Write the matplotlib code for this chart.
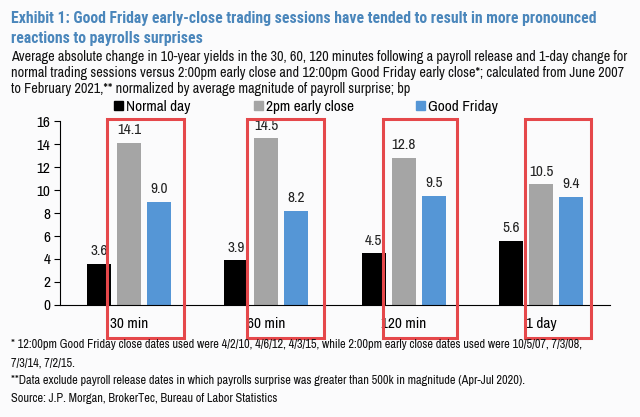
import matplotlib
matplotlib.use("Agg")
import matplotlib.pyplot as plt
import numpy as np
from matplotlib import font_manager
from matplotlib.patches import Rectangle, Patch

narrow = ['Arial Narrow', 'Liberation Sans Narrow', 'Archivo Narrow', 'Roboto Condensed',
          'PT Sans Narrow', 'Pragati Narrow', 'Open Sans Condensed', 'Fira Sans Condensed',
          'IBM Plex Sans Condensed', 'Encode Sans Condensed']
fonts = font_manager.fontManager.ttflist
names = {f.name for f in fonts}
bold_names = {f.name for f in fonts if f.weight in (700, 'bold') and '[' not in f.fname}

fam = next((c for c in narrow if c in names), 'Liberation Sans')
title_fam = next((c for c in narrow if c in bold_names), 'Liberation Sans')
plt.rcParams['font.family'] = [fam, 'DejaVu Sans']

categories = ['30 min', '60 min', '120 min', '1 day']
normal_day = [3.6, 3.9, 4.5, 5.6]
early_close = [14.1, 14.5, 12.8, 10.5]
good_friday = [9.0, 8.2, 9.5, 9.4]
series_names = ['Normal day', '2pm early close', 'Good Friday']
colors = ['#000000', '#a5a5a5', '#5596d6']
yticks = [0, 2, 4, 6, 8, 10, 12, 14, 16]

fig = plt.figure(figsize=(6.4, 4.17), dpi=100)
fig.patch.set_facecolor('#fbfbfc')
ax = fig.add_axes([0.094, 0.2686, 0.859, 0.4412])
ax.set_facecolor('none')
renderer = fig.canvas.get_renderer()


def fit(texts, target_px):
    # scale the font so the first text spans target_px
    w = texts[0].get_window_extent(renderer).width
    size = texts[0].get_fontsize() * target_px / w
    for t in texts:
        t.set_fontsize(size)


x = np.arange(len(categories))
step = 0.218
width = 0.175
for i, (vals, c) in enumerate(zip([normal_day, early_close, good_friday], colors)):
    bars = ax.bar(x + (i - 1) * step, vals, width, color=c, zorder=2)
    for b, v in zip(bars, vals):
        ax.annotate(f'{v:.1f}', (b.get_x() + b.get_width() / 2, v),
                    xytext=(0, 4), textcoords='offset points',
                    ha='center', va='bottom', fontsize=11, color='#222222')

ax.set_xlim(-0.5, 3.5)
ax.set_ylim(0, 16)
ax.set_yticks(yticks)
ax.tick_params(axis='y', direction='out', length=4, labelsize=11, pad=3)
ax.set_xticks(x)
ax.set_xticklabels(categories, fontsize=11)
ax.tick_params(axis='x', length=0, pad=9)
for s in ['top', 'right']:
    ax.spines[s].set_visible(False)
ax.spines['left'].set_linewidth(0.8)
ax.spines['bottom'].set_linewidth(0.8)

# red highlight boxes (x0, x1 in data units)
boxes = [(-0.16, 0.40), (0.86, 1.42), (1.85, 2.39), (2.88, 3.36)]
for x0, x1 in boxes:
    ax.add_patch(Rectangle((x0, -2.85), x1 - x0, 19.0, fill=False,
                           edgecolor='#e5484b', linewidth=2.2, clip_on=False, zorder=5))

# legend, one entry per series at the reference's positions
leg_x = [114, 254, 416]
for name, c, lx in zip(series_names, colors, leg_x):
    fig.legend([Patch(color=c)], [name], loc='center left',
               bbox_to_anchor=(lx / 640, 1 - 107 / 417), frameon=False, fontsize=11,
               handlelength=0.6, handleheight=0.6, handletextpad=0.2,
               borderaxespad=0, borderpad=0)

title_c = '#4a86bb'
t1 = fig.text(11 / 640, 1 - 19 / 417,
              'Exhibit 1: Good Friday early-close trading sessions have tended to result in more pronounced',
              fontsize=12, fontweight='bold', color=title_c, va='center',
              family=[title_fam, 'DejaVu Sans'])
t2 = fig.text(11 / 640, 1 - 38 / 417, 'reactions to payrolls surprises',
              fontsize=12, fontweight='bold', color=title_c, va='center',
              family=[title_fam, 'DejaVu Sans'])
fit([t1, t2], 591)

sub = ['Average absolute change in 10-year yields in the 30, 60, 120 minutes following a payroll release and 1-day change for',
       'normal trading sessions versus 2:00pm early close and 12:00pm Good Friday early close*; calculated from June 2007',
       'to February 2021,** normalized by average magnitude of payroll surprise; bp']
sub_t = [fig.text(11 / 640, 1 - (57 + 16 * i) / 417, s, fontsize=11, color='#111111', va='center')
         for i, s in enumerate(sub)]
fit(sub_t, 614)

notes = [(345, '* 12:00pm Good Friday close dates used were 4/2/10, 4/6/12, 4/3/15, while 2:00pm early close dates used were 10/5/07, 7/3/08,'),
         (363, '7/3/14, 7/2/15.'),
         (381, '**Data exclude payroll release dates in which payrolls surprise was greater than 500k in magnitude (Apr-Jul 2020).'),
         (399, 'Source: J.P. Morgan, BrokerTec, Bureau of Labor Statistics')]
note_t = [fig.text(11 / 640, 1 - yp / 417, s, fontsize=9, color='#111111', va='center')
          for yp, s in notes]
fit(note_t, 574)

fig.savefig('out.png', dpi=100, facecolor=fig.get_facecolor())
